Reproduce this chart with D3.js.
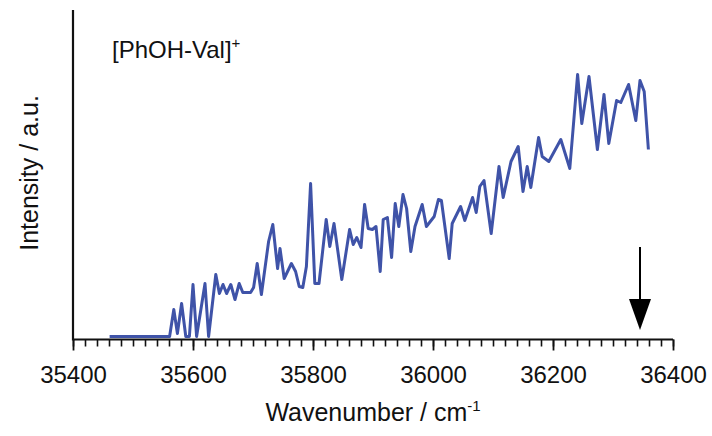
<!DOCTYPE html>
<html>
<head>
<meta charset="utf-8">
<script src="https://cdn.jsdelivr.net/npm/d3@7"></script>
<style>
  body { margin: 0; background: #fff; }
  svg text { font-family: "Liberation Sans", Arial, sans-serif; fill: #111; }
</style>
</head>
<body>
<svg id="chart" width="712" height="436"></svg>
<script>
// wavenumber (cm-1) of each measured point
var wavenumber = [35461, 35561, 35568, 35574, 35581, 35588, 35594, 35600, 35606, 35620,
  35626, 35638, 35644, 35650, 35656, 35663, 35670, 35677, 35683, 35696,
  35701, 35707, 35714, 35726, 35733, 35741, 35745, 35752, 35764, 35771,
  35777, 35783, 35789, 35796, 35803, 35810, 35822, 35828, 35835, 35848,
  35861, 35867, 35873, 35880, 35886, 35892, 35899, 35905, 35912, 35917,
  35924, 35931, 35937, 35943, 35950, 35956, 35963, 35970, 35982, 35989,
  36002, 36009, 36014, 36027, 36032, 36046, 36053, 36066, 36072, 36078,
  36085, 36097, 36110, 36117, 36130, 36142, 36150, 36157, 36163, 36176,
  36182, 36193, 36213, 36228, 36241, 36248, 36260, 36274, 36285, 36293,
  36306, 36313, 36326, 36338, 36345, 36352, 36359];
// photofragment intensity (arbitrary units)
var intensity = [0, 0, 0.27, 0.03, 0.33, 0, 0, 0.52, 0, 0.53,
  0, 0.62, 0.43, 0.52, 0.43, 0.52, 0.37, 0.53, 0.44, 0.44,
  0.49, 0.73, 0.42, 0.95, 1.12, 0.68, 0.88, 0.58, 0.73, 0.65,
  0.50, 0.49, 0.70, 1.53, 0.53, 0.53, 1.17, 0.90, 1.13, 0.57,
  1.07, 0.92, 0.99, 0.89, 1.32, 1.08, 1.07, 1.10, 0.65, 1.17,
  1.19, 0.79, 1.33, 1.10, 1.42, 1.28, 0.85, 1.10, 1.32, 1.10,
  1.20, 1.37, 1.36, 0.78, 1.13, 1.30, 1.16, 1.39, 1.24, 1.50,
  1.56, 1.03, 1.70, 1.39, 1.75, 1.90, 1.45, 1.70, 1.49, 1.99,
  1.80, 1.75, 1.97, 1.68, 2.62, 2.13, 2.60, 1.87, 2.42, 1.93,
  2.36, 2.34, 2.52, 2.16, 2.56, 2.45, 1.87];
var xTicks = [35400, 35600, 35800, 36000, 36200, 36400];
var arrowAt = 36345;
var label = "[PhOH-Val]";

var svg = d3.select("#chart");
var m = {t: 10, r: 39, b: 96.5, l: 73},
    w = 712 - m.l - m.r,
    h = 436 - m.t - m.b;

var x = d3.scaleLinear().domain([35400, 36400]).range([0, w]);
var y = d3.scaleLinear().domain([-0.03, 3.265]).range([h, 0]);

var g = svg.append("g").attr("transform", "translate(" + m.l + "," + m.t + ")");

// minor ticks
var minor = d3.axisBottom(x).tickValues(d3.range(35400, 36401, 20))
  .tickSize(7).tickFormat("");
g.append("g").attr("transform", "translate(0," + h + ")").call(minor)
  .call(function(s){
    s.select(".domain").remove();
    s.selectAll("line").attr("stroke", "#111").attr("stroke-width", 1.6);
  });

// major ticks + labels
var major = d3.axisBottom(x).tickValues(xTicks).tickSize(11).tickPadding(15.5)
  .tickFormat(d3.format("d"));
g.append("g").attr("transform", "translate(0," + h + ")").call(major)
  .call(function(s){
    s.select(".domain").attr("stroke", "#111").attr("stroke-width", 2.2)
      .attr("d", "M0,0H" + w);
    s.selectAll("line").attr("stroke", "#111").attr("stroke-width", 1.8);
    s.selectAll("text").attr("font-size", 24).attr("fill", "#111");
  });

// y axis line (no ticks)
g.append("line").attr("x1", 0).attr("x2", 0).attr("y1", 0).attr("y2", h + 1)
  .attr("stroke", "#111").attr("stroke-width", 2.2);

// spectrum
var line = d3.line()
  .x(function(d, i){ return x(wavenumber[i]); })
  .y(function(d){ return y(d); });
g.append("path").datum(intensity)
  .attr("d", line)
  .attr("fill", "none")
  .attr("stroke", "#3f53a8")
  .attr("stroke-width", 3)
  .attr("stroke-linejoin", "round");

// arrow
var ax = x(arrowAt);
g.append("line").attr("x1", ax).attr("x2", ax).attr("y1", 237).attr("y2", 292)
  .attr("stroke", "#000").attr("stroke-width", 2);
g.append("path")
  .attr("d", "M" + (ax - 11) + ",289L" + (ax + 11) + ",289L" + ax + ",320Z")
  .attr("fill", "#000");

// label
var t = g.append("text").attr("x", 39).attr("y", 48).attr("font-size", 24);
t.append("tspan").text(label);
t.append("tspan").attr("dy", -10).attr("font-size", 15).text("+");

// axis titles
svg.append("text").attr("x", m.l + w / 2).attr("y", 421)
  .attr("text-anchor", "middle").attr("font-size", 25)
  .call(function(s){
    s.append("tspan").text("Wavenumber / cm");
    s.append("tspan").attr("dy", -10).attr("font-size", 15).text("-1");
  });

svg.append("text")
  .attr("transform", "translate(38," + (m.t + 163) + ") rotate(-90)")
  .attr("text-anchor", "middle").attr("font-size", 25)
  .text("Intensity / a.u.");
</script>
</body>
</html>
